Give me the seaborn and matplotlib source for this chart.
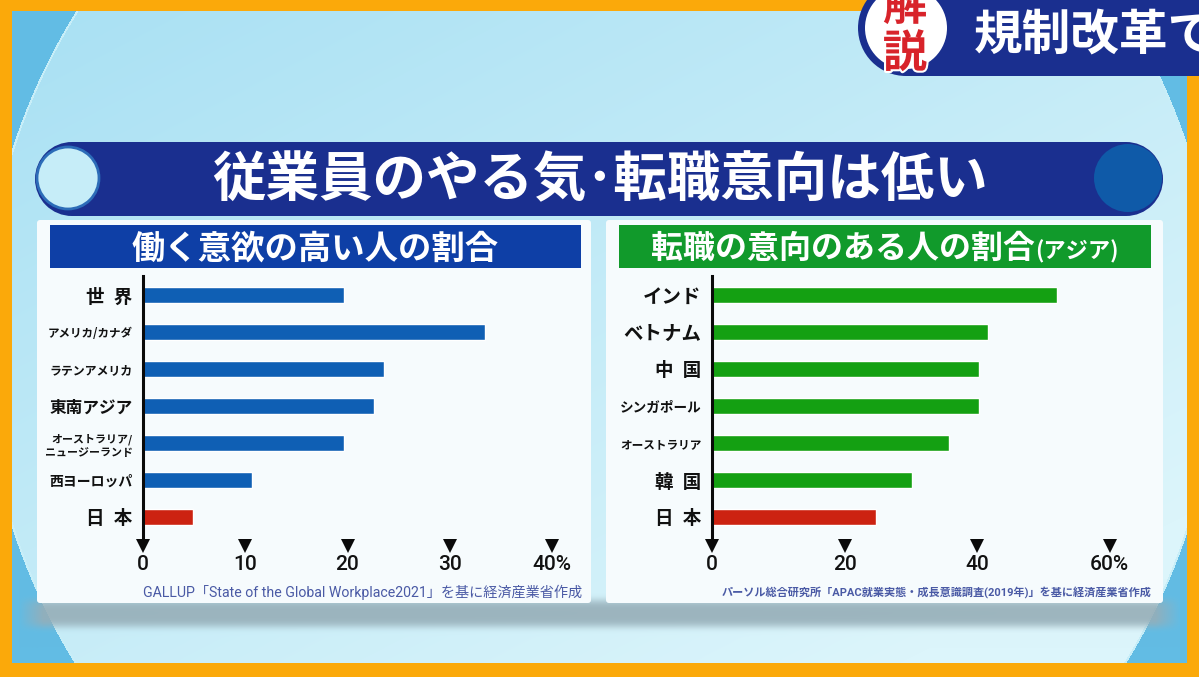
import numpy as np
import pandas as pd
import seaborn as sns
import matplotlib
matplotlib.use("Agg")
import matplotlib.pyplot as plt
from matplotlib.patches import Rectangle, Circle, FancyBboxPatch
import matplotlib.patheffects as pe

# ---- data -------------------------------------------------------------
left_categories = ["世\u2002界", "アメリカ/カナダ", "ラテンアメリカ", "東南アジア",
                   "オーストラリア/\nニュージーランド", "西ヨーロッパ", "日\u2002本"]
left_values = [19.7, 33.4, 23.6, 22.6, 19.7, 10.7, 4.9]
left_ticks = [0, 10, 20, 30, 40]
left_ticklabels = ["0", "10", "20", "30", "40%"]

right_categories = ["インド", "ベトナム", "中\u2002国", "シンガポール",
                    "オーストラリア", "韓\u2002国", "日\u2002本"]
right_values = [52.0, 41.6, 40.3, 40.2, 35.7, 30.2, 24.8]
right_ticks = [0, 20, 40, 60]
right_ticklabels = ["0", "20", "40", "60%"]

main_title = "従業員のやる気･転職意向は低い"
left_header = "働く意欲の高い人の割合"
right_header = "転職の意向のある人の割合"
right_header_small = "(アジア)"
left_source = "GALLUP「State of the Global Workplace2021」を基に経済産業省作成"
right_source = "パーソル総合研究所「APAC就業実態・成長意識調査(2019年)」を基に経済産業省作成"
banner_text = "規制改革で"

# ---- style ------------------------------------------------------------
W, H = 1199, 677
JP = "Noto Sans CJK JP"
BLUE, GREEN, RED = "#0f5fb4", "#14a012", "#cc2211"
NAVY = "#1a2f8f"
ORANGE = "#fba90a"
left_sizes = [13.3, 8.3, 8.6, 12, 7.9, 10, 13.3]
right_sizes = [14, 14, 13.3, 9.8, 8.4, 13.3, 13.3]

sns.set_theme(style="white")
plt.rcParams["font.family"] = [JP, "DejaVu Sans"]

fig = plt.figure(figsize=(W / 100, H / 100), dpi=100)

# ---- backdrop ---------------------------------------------------------
bg = fig.add_axes([0, 0, 1, 1], zorder=0)
bg.set_xlim(0, W)
bg.set_ylim(H, 0)
bg.axis("off")

yy, xx = np.mgrid[0:H, 0:W]
mix = np.clip(0.55 * xx / W + 0.6 * yy / H, 0, 1)[..., None]
c_a = np.array([0xa8, 0xe0, 0xf3]) / 255
c_b = np.array([0xdc, 0xf5, 0xfb]) / 255
img = c_a * (1 - mix) + c_b * mix
dist = np.hypot(xx - 600, yy - 338)
corner = dist > 617
img[corner] = np.array([0x62, 0xbc, 0xe4]) / 255
rim = np.abs(dist - 617) < 1.0
img[rim] = np.array([0xc8, 0xee, 0xf8]) / 255
band = np.exp(-((yy - 613) / 14.0) ** 4) * np.clip((xx - 18) / 25, 0, 1) * np.clip((1180 - xx) / 25, 0, 1)
grey = np.array([0x96, 0xae, 0xb8]) / 255
img = img * (1 - 0.9 * band[..., None]) + grey * 0.9 * band[..., None]
bg.imshow(img, extent=(0, W, H, 0), aspect="auto", zorder=0, interpolation="bilinear")

# orange frame
for l, t, w, h in [(0, 0, W, 11), (0, 663, W, 14), (0, 0, 12, H), (1187, 0, 12, H)]:
    bg.add_patch(Rectangle((l, t), w, h, fc=ORANGE, ec="none", zorder=1))

# top-right banner
bg.add_patch(Rectangle((906, 0), W - 906, 76, fc=NAVY, ec="none", zorder=2))
bg.add_patch(Circle((906, 28), 48, fc=NAVY, ec="none", zorder=2,
                    clip_path=Rectangle((0, 0), W, 76, transform=bg.transData)))
bg.add_patch(Circle((906, 28), 41, fc="white", ec="none", zorder=3,
                    clip_path=Rectangle((0, 0), W, 76, transform=bg.transData)))
stroke = [pe.withStroke(linewidth=3, foreground="white")]
bg.text(905, 7, "解", color="#d8232a", fontsize=32, fontweight="bold", ha="center",
        va="center", zorder=4, path_effects=stroke)
bg.text(905, 54, "説", color="#d8232a", fontsize=32, fontweight="bold", ha="center",
        va="center", zorder=4, path_effects=stroke)
bg.text(974, 35, banner_text, color="white", fontsize=35, fontweight="bold", ha="left",
        va="center", zorder=4, clip_on=True)

# title pill
bg.add_patch(Rectangle((72, 142), 1054, 74, fc=NAVY, ec="none", zorder=2))
bg.add_patch(Circle((72, 179), 37, fc=NAVY, ec="none", zorder=2))
bg.add_patch(Circle((1126, 179), 37, fc=NAVY, ec="none", zorder=2))
bg.add_patch(Circle((68, 178), 31, fc="#c6edf8", ec="#2c6cb8", lw=2, zorder=3))
bg.add_patch(Circle((1128, 178), 34, fc="#0f5aa8", ec="none", zorder=3))
bg.text(600, 181, main_title, color="white", fontsize=38.5, fontweight="bold", ha="center",
        va="center", zorder=4)

# panels and headers
for l, r in [(37, 591), (606, 1163)]:
    bg.add_patch(FancyBboxPatch((l + 3, 223), r - l - 6, 377, boxstyle="round,pad=3,rounding_size=3",
                                fc="#f6fbfd", ec="none", zorder=2))
bg.add_patch(Rectangle((50, 225), 531, 43, fc="#0e3fa6", ec="none", zorder=3))
bg.add_patch(Rectangle((619, 225), 532, 43, fc="#119a2b", ec="none", zorder=3))
bg.text(315, 249, left_header, color="white", fontsize=24, fontweight="bold",
        ha="center", va="center", zorder=4)
bg.text(651, 249, right_header, color="white", fontsize=23, fontweight="bold",
        ha="left", va="center", zorder=4)
bg.text(1035, 252, right_header_small, color="white", fontsize=16, fontweight="bold",
        ha="left", va="center", zorder=4)
src_font = ["Roboto", JP]
bg.text(582, 592, left_source, color="#4a5aa5", fontsize=10.2, family=src_font,
        ha="right", va="center", zorder=4)
bg.text(1151, 592, right_source, color="#4a5aa5", fontsize=8.0, family=src_font,
        fontweight="bold", ha="right", va="center", zorder=4)


# ---- charts -----------------------------------------------------------
def draw(cats, vals, ticks, labels, sizes, bar_color, x0, px_per_unit, xmax):
    top, bottom = 276, 545.5
    ax = fig.add_axes([x0 / W, 1 - bottom / H, xmax * px_per_unit / W, (bottom - top) / H], zorder=5)
    ax.patch.set_alpha(0)
    df = pd.DataFrame({"cat": cats, "val": vals})
    palette = {c: (RED if c.startswith("日") else bar_color) for c in cats}
    sns.barplot(data=df, y="cat", x="val", hue="cat", order=cats, hue_order=cats,
                palette=palette, legend=False, width=16 / 37, saturation=1, ax=ax)
    ax.set_xlim(0, xmax)
    ax.set_ylim((bottom - 295) / 37, (top - 295) / 37)
    ax.set_xlabel("")
    ax.set_ylabel("")
    for s in ("top", "right", "bottom"):
        ax.spines[s].set_visible(False)
    ax.spines["left"].set_color("#0a0a0a")
    ax.spines["left"].set_linewidth(2.2)
    ax.set_xticks(ticks)
    ax.set_xticklabels(labels, family=["Roboto", JP], fontsize=15, fontweight="medium", color="#111111")
    ax.tick_params(axis="x", length=0, pad=7, bottom=True)
    ax.tick_params(axis="y", length=0, pad=7.5)
    for t in ax.xaxis.get_major_ticks():
        t.tick1line.set_marker("v")
        t.tick1line.set_markersize(10)
        t.tick1line.set_markeredgewidth(0)
        t.tick1line.set_markerfacecolor("#0a0a0a")
        t.tick1line.set_zorder(6)
    for lab, size in zip(ax.get_yticklabels(), sizes):
        lab.set_fontsize(size)
        lab.set_fontweight("bold")
        lab.set_color("#111111")
        lab.set_linespacing(1.45)
    return ax


draw(left_categories, left_values, left_ticks, left_ticklabels, left_sizes, BLUE, 143, 10.225, 43)
draw(right_categories, right_values, right_ticks, right_ticklabels, right_sizes, GREEN, 712, 6.63, 66)

fig.savefig("out.png", dpi=100)
